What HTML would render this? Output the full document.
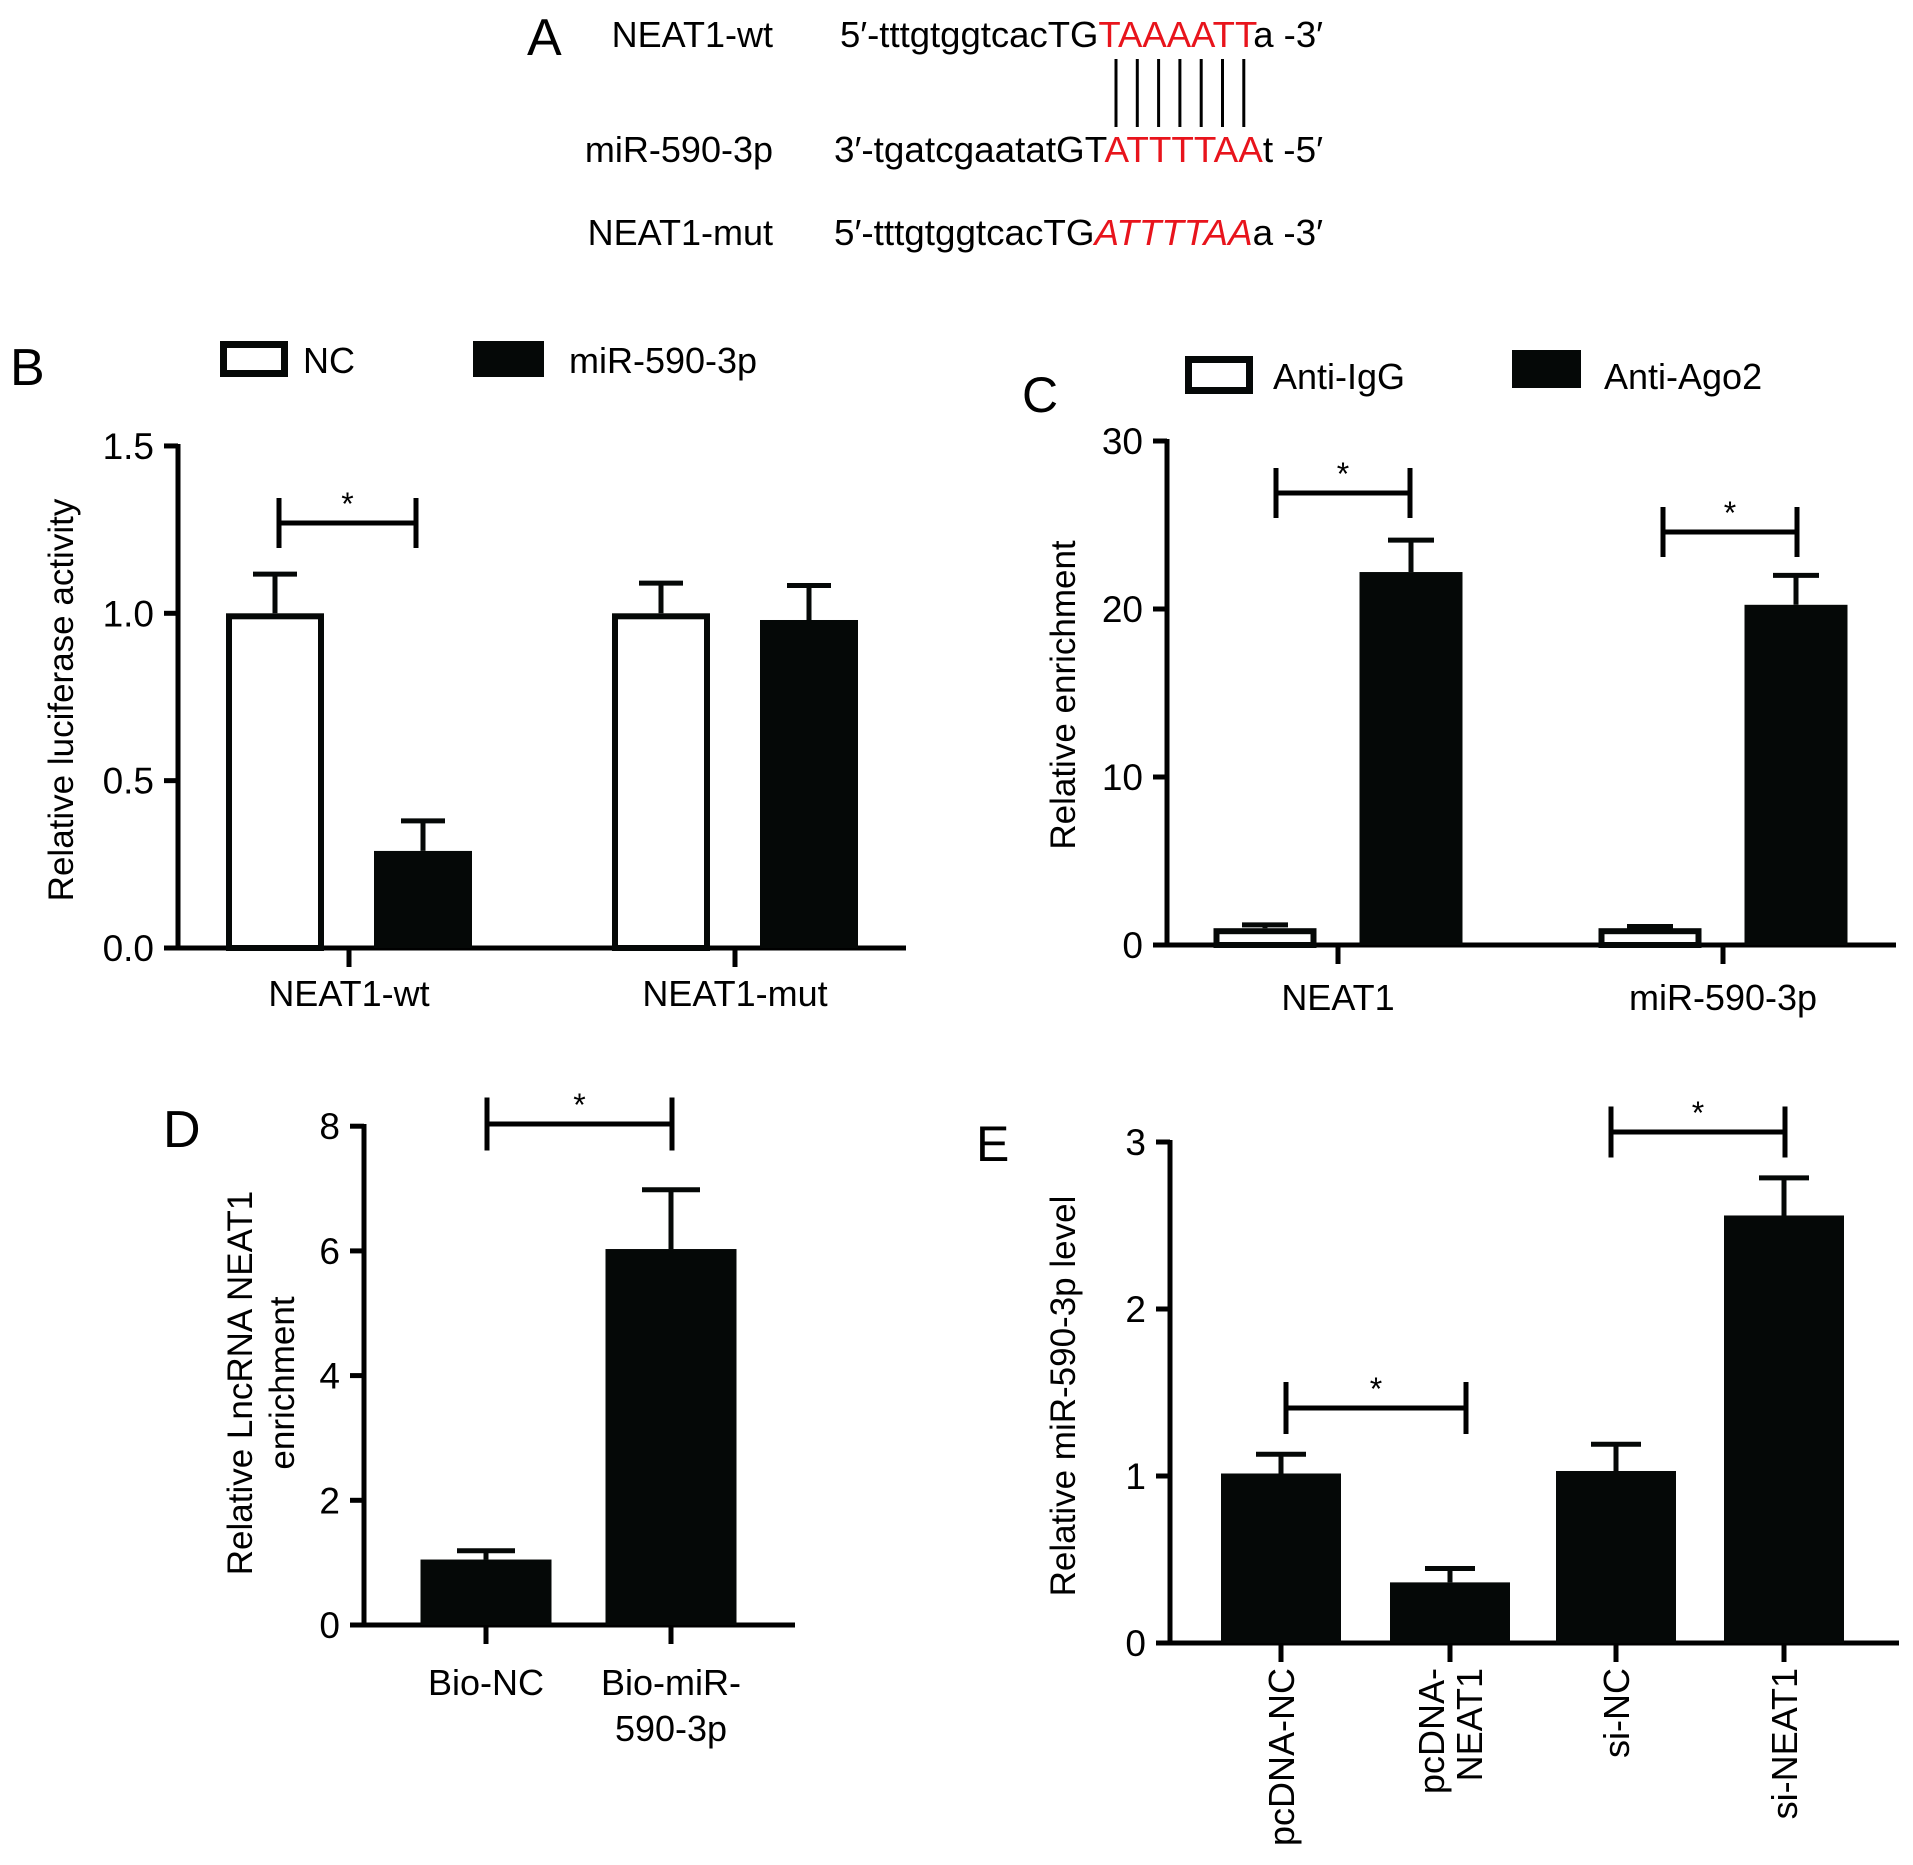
<!DOCTYPE html>
<html><head><meta charset="utf-8"><style>
html,body{margin:0;padding:0;background:#fff;}
svg{display:block;font-family:"Liberation Sans",Arial,sans-serif;}
</style></head><body>
<svg id="fig" width="1913" height="1865" viewBox="0 0 1913 1865" xmlns="http://www.w3.org/2000/svg">
<g id="panelA" font-size="36">
<text x="527" y="55" font-size="52">A</text>
<text x="773" y="47" text-anchor="end">NEAT1-wt</text>
<text x="840" y="47" textLength="483" lengthAdjust="spacingAndGlyphs">5′-tttgtggtcacTG<tspan fill="#e8141c">TAAAATT</tspan>a -3′</text>
<text x="773" y="162" text-anchor="end">miR-590-3p</text>
<text x="834" y="162" textLength="489" lengthAdjust="spacingAndGlyphs">3′-tgatcgaatatGT<tspan fill="#e8141c">ATTTTAA</tspan>t -5′</text>
<text x="773" y="245" text-anchor="end">NEAT1-mut</text>
<text x="834" y="245" textLength="489" lengthAdjust="spacingAndGlyphs">5′-tttgtggtcacTG<tspan fill="#e8141c" font-style="italic">ATTTTAA</tspan>a -3′</text>
<g id="pairs" stroke="#000" stroke-width="3"></g>
</g>
</svg>
<script>
// ---------- Panel B data ----------
const bCategories = ["NEAT1-wt", "NEAT1-mut"];
const bSeries = ["NC", "miR-590-3p"];
const bNC = [1.0, 1.0];
const bNCErr = [1.117, 1.09];
const bMiR = [0.29, 0.98];
const bMiRErr = [0.38, 1.083];
const bTicks = [0, 0.5, 1.0, 1.5];
const bTickLabels = ["0.0", "0.5", "1.0", "1.5"];
// ---------- Panel C data ----------
const cCategories = ["NEAT1", "miR-590-3p"];
const cSeries = ["Anti-IgG", "Anti-Ago2"];
const cIgG = [1.0, 1.0];
const cIgGErr = [1.2, 1.1];
const cAgo2 = [22.2, 20.25];
const cAgo2Err = [24.1, 22.0];
const cTicks = [0, 10, 20, 30];
const cTickLabels = ["0", "10", "20", "30"];
// ---------- Panel D data ----------
const dCategories = [["Bio-NC"], ["Bio-miR-", "590-3p"]];
const dValues = [1.05, 6.03];
const dErr = [1.19, 6.98];
const dTicks = [0, 2, 4, 6, 8];
const dTickLabels = ["0", "2", "4", "6", "8"];
// ---------- Panel E data ----------
const eCategories = [["pcDNA-NC"], ["pcDNA-", "NEAT1"], ["si-NC"], ["si-NEAT1"]];
const eValues = [1.015, 0.363, 1.03, 2.56];
const eErr = [1.13, 0.446, 1.19, 2.785];
const eTicks = [0, 1, 2, 3];
const eTickLabels = ["0", "1", "2", "3"];

const NS = "http://www.w3.org/2000/svg";
const svg = document.getElementById("fig");
function mk(tag, attrs, parent) {
  const e = document.createElementNS(NS, tag);
  for (const k in attrs) e.setAttribute(k, attrs[k]);
  (parent || svg).appendChild(e);
  return e;
}
// base pair lines
const pairs = document.getElementById("pairs");
for (let i = 0; i < 7; i++) {
  const l = mk("line", {x1: 1116 + i * 21.3, x2: 1116 + i * 21.3, y1: 59, y2: 127}, pairs);
  
  
}

function makeAxis(g, ax) {
  const yl = mk("line", {x1: ax.x, x2: ax.x, y1: ax.top - 2, y2: ax.y0 + 2, stroke: "#000", "stroke-width": 5}, g);
  
  
  const xl = mk("line", {x1: ax.x - 14, x2: ax.xEnd, y1: ax.y0, y2: ax.y0, stroke: "#000", "stroke-width": 5}, g);
  
  
  ax.ticks.forEach((t, i) => {
    const y = ax.y0 - t * ax.ppu;
    const tk = mk("line", {x1: ax.x - 14, x2: ax.x, y1: y, y2: y, stroke: "#000", "stroke-width": 5}, g);
    
    
    const tl = mk("text", {x: ax.x - 24, y: y + 13, "text-anchor": "end", "font-size": 37}, g);
    tl.textContent = ax.labels[i];
    
    
  });
}
function xTick(g, x, y0) {
  const t = mk("line", {x1: x, x2: x, y1: y0, y2: y0 + 19, stroke: "#000", "stroke-width": 5}, g);
  
  
}
function bar(g, ax, cx, w, v, filled) {
  const top = ax.y0 - v * ax.ppu;
  let r;
  if (filled) r = mk("rect", {x: cx - w / 2, y: top, width: w, height: ax.y0 - top, fill: "#050807"}, g);
  else r = mk("rect", {x: cx - w / 2 + 3, y: top + 3, width: w - 6, height: ax.y0 - top - 3, fill: "#fff", stroke: "#050807", "stroke-width": 6}, g);
  
  
}
function errBar(g, ax, cx, v, e, cap) {
  const y1 = ax.y0 - v * ax.ppu, y2 = ax.y0 - e * ax.ppu;
  const p = mk("path", {d: `M${cx},${y1} V${y2} M${cx - cap / 2},${y2} H${cx + cap / 2}`, stroke: "#050807", "stroke-width": 5, fill: "none"}, g);
  
  
}
function bracket(g, x1, x2, y, h) {
  const p = mk("path", {d: `M${x1},${y - h / 2} V${y + h / 2} M${x1},${y} H${x2} M${x2},${y - h / 2} V${y + h / 2}`, stroke: "#000", "stroke-width": 5, fill: "none"}, g);
  
  
  const s = mk("text", {x: (x1 + x2) / 2, y: y - 8, "text-anchor": "middle", "font-size": 32}, g);
  s.textContent = "*";
  
  
}
function text(g, x, y, s, size, attrs) {
  const t = mk("text", Object.assign({x: x, y: y, "font-size": size}, attrs || {}), g);
  t.textContent = s;
  return t;
}
function legendBox(g, x, y, w, h, filled) {
  let r;
  if (filled) r = mk("rect", {x: x, y: y, width: w, height: h, fill: "#050807"}, g);
  else r = mk("rect", {x: x + 3.5, y: y + 3.5, width: w - 7, height: h - 7, fill: "#fff", stroke: "#050807", "stroke-width": 7}, g);
  
  
}

// ---------- Panel B ----------
{
  const g = mk("g", {});
  
  
  const ax = {x: 178, y0: 948, top: 446, xEnd: 906, ppu: 334.7, ticks: bTicks, labels: bTickLabels};
  makeAxis(g, ax);
  const centers = [349, 735], off = 74, w = 98;
  let t = text(g, 10, 385, "B", 52);  
  legendBox(g, 220, 341, 68, 36, false);
  t = text(g, 303, 373, bSeries[0], 36);  
  legendBox(g, 473, 341, 71, 36, true);
  t = text(g, 569, 373, bSeries[1], 36);  
  bCategories.forEach((c, i) => {
    const cx = centers[i];
    bar(g, ax, cx - off, w, bNC[i], false);
    errBar(g, ax, cx - off, bNC[i], bNCErr[i], 44);
    bar(g, ax, cx + off, w, bMiR[i], true);
    errBar(g, ax, cx + off, bMiR[i], bMiRErr[i], 44);
    xTick(g, cx, ax.y0);
    const l = text(g, cx, 1006, c, 36, {"text-anchor": "middle"});
    
    
  });
  bracket(g, 279, 416, 523, 50);
  t = text(g, 73, 700, "Relative luciferase activity", 35, {"text-anchor": "middle", transform: "rotate(-90 73 700)"});
   
}
// ---------- Panel C ----------
{
  const g = mk("g", {});
  
  
  const ax = {x: 1167, y0: 945, top: 441, xEnd: 1896, ppu: 16.8, ticks: cTicks, labels: cTickLabels};
  makeAxis(g, ax);
  const centers = [1338, 1723], off = 73, w = 103;
  let t = text(g, 1022, 412, "C", 50);  
  legendBox(g, 1185, 356, 68, 38, false);
  t = text(g, 1273, 389, cSeries[0], 36);  
  legendBox(g, 1512, 350, 69, 38, true);
  t = text(g, 1604, 389, cSeries[1], 36);  
  cCategories.forEach((c, i) => {
    const cx = centers[i];
    bar(g, ax, cx - off, w, cIgG[i], false);
    errBar(g, ax, cx - off, cIgG[i], cIgGErr[i], 46);
    bar(g, ax, cx + off, w, cAgo2[i], true);
    errBar(g, ax, cx + off, cAgo2[i], cAgo2Err[i], 46);
    xTick(g, cx, ax.y0);
    const l = text(g, cx, 1010, c, 36, {"text-anchor": "middle"});
    
    
  });
  bracket(g, 1276, 1410, 493, 50);
  bracket(g, 1663, 1797, 532, 50);
  t = text(g, 1075, 695, "Relative enrichment", 35, {"text-anchor": "middle", transform: "rotate(-90 1075 695)"});
   
}
// ---------- Panel D ----------
{
  const g = mk("g", {});
  
  
  const ax = {x: 364, y0: 1625, top: 1126, xEnd: 795, ppu: 62.35, ticks: dTicks, labels: dTickLabels};
  makeAxis(g, ax);
  const centers = [486, 671], w = 131;
  let t = text(g, 163, 1147, "D", 52);  
  dCategories.forEach((c, i) => {
    const cx = centers[i];
    bar(g, ax, cx, w, dValues[i], true);
    errBar(g, ax, cx, dValues[i], dErr[i], 58);
    xTick(g, cx, ax.y0);
    c.forEach((line, j) => {
      const l = text(g, cx, 1695 + j * 46, line, 36, {"text-anchor": "middle"});
      
      
    });
  });
  bracket(g, 487, 672, 1124, 53);
  t = text(g, 239, 1383, "Relative LncRNA NEAT1", 35, {"text-anchor": "middle", transform: "rotate(-90 252 1383)", x: 252});
   
  t = text(g, 294, 1383, "enrichment", 35, {"text-anchor": "middle", transform: "rotate(-90 294 1383)"});
   
}
// ---------- Panel E ----------
{
  const g = mk("g", {});
  
  
  const ax = {x: 1170, y0: 1643, top: 1142, xEnd: 1899, ppu: 167, ticks: eTicks, labels: eTickLabels};
  makeAxis(g, ax);
  const centers = [1281, 1450, 1616, 1784], w = 120;
  let t = text(g, 976, 1161, "E", 50);  
  eCategories.forEach((c, i) => {
    const cx = centers[i];
    bar(g, ax, cx, w, eValues[i], true);
    errBar(g, ax, cx, eValues[i], eErr[i], 50);
    xTick(g, cx, ax.y0);
    const n = c.length;
    c.forEach((line, j) => {
      const lx = cx + 13 + (j - (n - 1) / 2) * 38;
      const l = text(g, lx, 1668, line, 36, {"text-anchor": "end", transform: `rotate(-90 ${lx} 1668)`});
      
      
    });
  });
  bracket(g, 1286, 1466, 1408, 52);
  bracket(g, 1611, 1785, 1132, 51);
  t = text(g, 1075, 1396, "Relative miR-590-3p level", 35, {"text-anchor": "middle", transform: "rotate(-90 1075 1396)"});
   
}
</script>
</body></html>
